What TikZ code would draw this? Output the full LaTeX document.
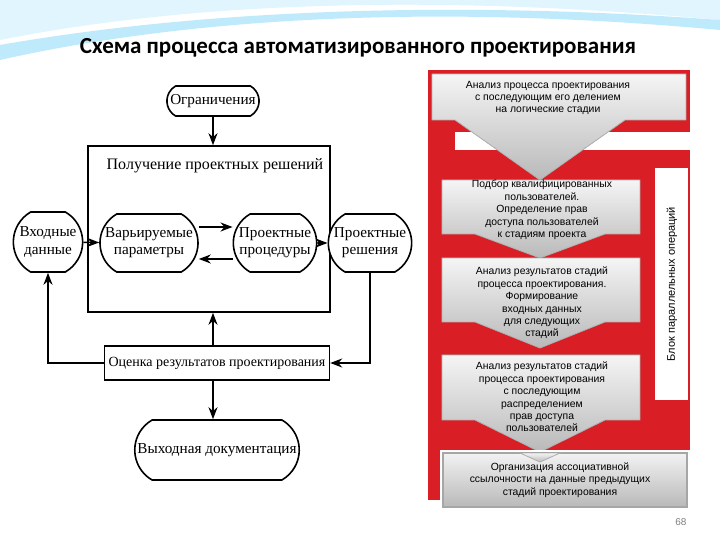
\documentclass[tikz,border=0pt]{standalone}
\usepackage{fontspec}
\setmainfont{Liberation Serif}
\newfontfamily\titlefont{Carlito}
\newfontfamily\arialf{Liberation Sans}
\usetikzlibrary{arrows.meta,shapes.misc}
\definecolor{redb}{RGB}{218,30,38}
\tikzset{
 lbox/.style={draw,thick,fill=white,rounded rectangle,rounded rectangle arc length=120,align=center,font=\fontsize{7.6}{8.6}\selectfont,inner sep=1pt},
 sbox/.style={draw,thick,fill=white,align=center,font=\fontsize{7.6}{8.6}\selectfont},
 conn/.style={thick,-{Stealth[length=6pt]}},
 gtxt/.style={align=center,font=\arialf\fontsize{5.2}{6.2}\selectfont},
 gsh/.style={top color=gray!8,bottom color=gray!55,draw=gray!60}
}
\begin{document}
\begin{tikzpicture}[x=0.5pt,y=-0.5pt]
\useasboundingbox (0,0) rectangle (720,540);
\fill[white] (0,0) rectangle (720,540);
\fill[cyan!12] (0,40) .. controls (200,0) and (450,-5) .. (720,20) -- (720,0) -- (0,0) -- cycle;
\fill[cyan!25] (0,60) .. controls (200,15) and (450,5) .. (720,30) -- (720,20) .. controls (450,0) and (200,10) .. (0,45) -- cycle;
\node[font=\titlefont\bfseries\fontsize{11.5}{13}\selectfont] (title) at (358,48) {Схема процесса автоматизированного проектирования};
% left diagram
\node[draw,thick,minimum width=121pt,minimum height=83pt] (big) at (209,229) {};
\node[font=\fontsize{8}{9}\selectfont] (bt) at (215,166) {Получение проектных решений};
\node[lbox,minimum width=45pt,minimum height=15pt] (ogr) at (213,101) {Ограничения};
\node[lbox,minimum width=33pt,minimum height=30pt] (vh) at (48,242) {Входные\\данные};
\node[lbox,minimum width=51pt,minimum height=29pt] (var) at (149,243) {Варьируемые\\параметры};
\node[lbox,minimum width=41pt,minimum height=29pt] (proc) at (275,243) {Проектные\\процедуры};
\node[lbox,minimum width=34pt,minimum height=29pt] (res) at (370,243) {Проектные\\решения};
\node[sbox,minimum width=109pt,minimum height=17pt,font=\fontsize{7}{8}\selectfont,inner xsep=2pt] (ots) at (217,363) {Оценка результатов проектирования};
\node[lbox,minimum width=82pt,minimum height=30pt] (vyh) at (217,450) {Выходная документация};
\draw[conn] (ogr) -- (big.north -| ogr);
\draw[conn] (vh) -- (var);
\draw[conn] ([yshift=8pt]var.east) -- ([yshift=8pt]proc.west);
\draw[conn] ([yshift=-8pt]proc.west) -- ([yshift=-8pt]var.east);
\draw[conn] (proc) -- (res);
\draw[conn] (res.south) |- (ots.east);
\draw[conn] (ots.north -| ogr) -- (big.south -| ogr);
\draw[conn] (ots.west) -| (vh.south);
\draw[conn] (ots.south -| ogr) -- (vyh.north -| ogr);
% right block
\fill[redb] (428,150) rectangle (690,500);
\fill[redb] (428,70) rectangle (690,132);
\fill[redb] (428,120) rectangle (455,150);
\fill[gsh] (432,74) -- (686,74) -- (686,120) -- (625,120) -- (540,180) -- (455,120) -- (432,120) -- cycle;
\node[gtxt] (t1) at (548,98) {Анализ процесса проектирования\\с последующим его делением\\на логические стадии};
\fill[white] (655,168) rectangle (688,400);
\node[gtxt,rotate=90,font=\arialf\fontsize{5.5}{6.5}\selectfont] (blk) at (672,284) {Блок параллельных операций};
\fill[gsh] (442,180) -- (640,180) -- (640,234) -- (605,234) -- (540,258) -- (475,234) -- (442,234) -- cycle;
\node[gtxt] (t2) at (542,210) {Подбор квалифицированных\\пользователей.\\Определение прав\\доступа пользователей\\к стадиям проекта};
\fill[gsh] (442,258) -- (640,258) -- (640,322) -- (605,322) -- (540,348) -- (475,322) -- (442,322) -- cycle;
\node[gtxt] (t3) at (542,303) {Анализ результатов стадий\\процесса проектирования.\\Формирование\\входных данных\\для следующих\\стадий};
\fill[gsh] (442,355) -- (640,355) -- (640,420) -- (605,420) -- (540,452) -- (475,420) -- (442,420) -- cycle;
\node[gtxt] (t4) at (542,397) {Анализ результатов стадий\\процесса проектирования\\с последующим\\распределением\\прав доступа\\пользователей};
\fill[white] (440,450) rectangle (690,510);
\draw[gray!70,thick,top color=gray!10,bottom color=gray!55] (443,453) rectangle (687,507);
\fill[gsh] (520,453) -- (540,462) -- (560,453) -- cycle;
\node[gtxt] (t5) at (560,480) {Организация ассоциативной\\ссылочности на данные предыдущих\\стадий проектирования};
\node[font=\arialf\fontsize{5}{6}\selectfont,text=gray] (pg) at (681,522) {68};
\end{tikzpicture}
\end{document}
